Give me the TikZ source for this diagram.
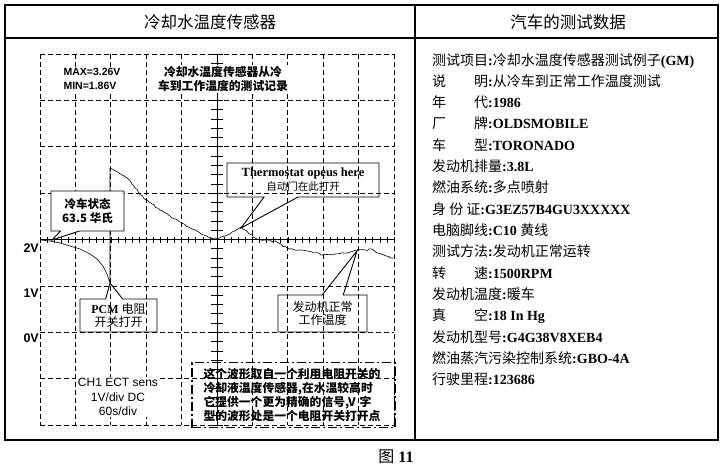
\documentclass[tikz,border=0pt]{standalone}
\usepackage{fontspec}
\setmainfont{Liberation Serif}
\setsansfont{Liberation Sans}
\newfontfamily\cjk{Noto Sans CJK SC}
\usetikzlibrary{positioning,shapes.callouts,decorations.pathmorphing}

\newcommand\zh[1]{{\cjk\mdseries #1}}
\newcommand\lbl[2]{\makebox[56pt][s]{\cjk\mdseries #1\hfill #2}}

\begin{document}
\pgfmathsetseed{11}
\begin{tikzpicture}[x=1pt,y=-1pt,node distance=21.33pt,on grid,
  frame/.style={line width=1.2pt},
  griddash/.style={line width=0.7pt,dash pattern=on 5pt off 3pt},
  axis/.style={line width=0.8pt},
  tick/.style={line width=0.6pt},
  trace/.style={line width=0.6pt},
  scopetxt/.style={fill=white,inner sep=1.5pt,align=center},
  callbox/.style={rectangle callout,draw,line width=0.9pt,align=center,inner sep=1pt},
  ylab/.style={anchor=east,inner sep=0pt,font=\sffamily\bfseries\fontsize{12.5}{14}\selectfont},
  datarow/.style={anchor=west,inner sep=0pt,text height=11pt,text depth=3pt,
    font=\bfseries\fontsize{14}{16}\selectfont}]
\useasboundingbox (0,0) rectangle (727,471);

% scope grid
\foreach \i in {0,1,2,3,4,6,7,8,9,10}
  \draw[griddash] (40+35.4*\i,54) -- (40+35.4*\i,425);
\foreach \j in {0,1,2,3,5,6,7,8}
  \draw[griddash] (40,54+46.375*\j) -- (394,54+46.375*\j);
\draw[axis] (217,54) -- (217,425);
\draw[axis] (40,239.5) -- (394,239.5);
\foreach \k in {0,...,50}
  \draw[tick] (40+7.08*\k,236.5) -- ++(0,6);
\foreach \k in {0,...,40}
  \draw[tick] (211,54+9.275*\k) -- ++(12,0);

% waveform
\draw[trace] (41,240) -- (50,241) -- (60,243) -- (70,246) -- (80,249) -- (90,254)
  -- (97,259) -- (103,266) -- (107,274) -- (110,283) -- (110,168);
\draw[trace,decorate,decoration={random steps,segment length=2.5pt,amplitude=0.8pt}]
  (110,168) -- (118,172) -- (127,178) -- (135,188) -- (143,197) -- (152,204)
  -- (160,210) -- (170,216) -- (180,222) -- (190,228) -- (200,233) -- (208,237)
  -- (217,239) -- (225,236) -- (232,232) -- (241,227) -- (245,230) -- (250,234)
  -- (257,239) -- (267,240) -- (277,242) -- (287,248) -- (300,250) -- (312,252)
  -- (323,255) -- (335,254) -- (347,253) -- (357,250) -- (365,250) -- (372,249)
  -- (378,253) -- (386,256) -- (393,258);

% scope texts
\node[scopetxt,align=left,font=\sffamily\bfseries\fontsize{10.5}{14}\selectfont] (maxmin) at (92,79) {MAX=3.26V\\MIN=1.86V};
\node[scopetxt,font=\cjk\bfseries\fontsize{11.8}{14.5}\selectfont] (record) at (223,79) {冷却水温度传感器从冷\\车到工作温度的测试记录};
\node[scopetxt,font=\sffamily\fontsize{12}{14.5}\selectfont] (ch1) at (118,397) {CH1 ECT sens\\1V/div DC\\60s/div};
\foreach \v/\y in {2/248,1/293,0/338}
  \node[ylab] (v\v) at (39,\y) {\v V};

% callouts
\coordinate (coldtip) at (52,240);
\coordinate (thermtip) at (241,228);
\coordinate (pcmtip) at (110,283);
\coordinate (enginetip) at (357,251);
\node[callbox,fill=white,minimum width=73pt,minimum height=40pt,
  callout absolute pointer={(coldtip)},callout pointer width=19pt,
  font=\cjk\bfseries\fontsize{11.5}{14}\selectfont] (cold) at (87.5,211) {冷车状态\\63.5 华氏};
\node[callbox,minimum width=152pt,minimum height=34pt,
  callout absolute pointer={(thermtip)},callout pointer width=34pt,
  font=\fontsize{12.5}{14}\selectfont] (therm) at (303,180)
  {\textbf{Thermostat opeus here}\\{\cjk\fontsize{10.5}{14}\selectfont 自动门在此打开}};
\node[callbox,minimum width=77pt,minimum height=33pt,
  callout absolute pointer={(pcmtip)},callout pointer width=17pt,
  font=\fontsize{12}{12.5}\selectfont] (pcm) at (118.5,315.5)
  {\textbf{PCM} {\cjk 电阻}\\{\cjk 开关打开}};
\node[callbox,minimum width=89pt,minimum height=37pt,
  callout absolute pointer={(enginetip)},callout pointer width=21pt,
  font=\cjk\fontsize{12}{12.5}\selectfont] (engine) at (322.5,313.5) {发动机正常\\工作温度};

% note
\node[draw,line width=1.6pt,dash pattern=on 9pt off 3pt on 2pt off 3pt,
  text width=180pt,inner xsep=11.5pt,minimum height=65pt,align=left,
  font=\cjk\bfseries\fontsize{11.8}{14.3}\selectfont] (note) at (293.5,395)
  {这个波形取自一个利用电阻开关的\\冷却液温度传感器,在水温较高时\\它提供一个更为精确的信号,V 字\\型的波形处是一个电阻开关打开点};

% headers
\node[font=\cjk\fontsize{16.5}{18}\selectfont] (lhead) at (210,22) {冷却水温度传感器};
\node[font=\cjk\fontsize{16.5}{18}\selectfont] (rhead) at (568,22) {汽车的测试数据};

% data rows
\node[datarow] (r1) at (432,61) {\zh{测试项目}:\zh{冷却水温度传感器测试例子}(GM)};
\node[below=of r1.west,datarow] (r2) {\lbl{说}{明}:\zh{从冷车到正常工作温度测试}};
\node[below=of r2.west,datarow] (r3) {\lbl{年}{代}:1986};
\node[below=of r3.west,datarow] (r4) {\lbl{厂}{牌}:OLDSMOBILE};
\node[below=of r4.west,datarow] (r5) {\lbl{车}{型}:TORONADO};
\node[below=of r5.west,datarow] (r6) {\zh{发动机排量}:3.8L};
\node[below=of r6.west,datarow] (r7) {\zh{燃油系统}:\zh{多点喷射}};
\node[below=of r7.west,datarow] (r8) {\zh{身 份 证}:G3EZ57B4GU3XXXXX};
\node[below=of r8.west,datarow] (r9) {\zh{电脑脚线}:C10 \zh{黄线}};
\node[below=of r9.west,datarow] (r10) {\zh{测试方法}:\zh{发动机正常运转}};
\node[below=of r10.west,datarow] (r11) {\lbl{转}{速}:1500RPM};
\node[below=of r11.west,datarow] (r12) {\zh{发动机温度}:\zh{暖车}};
\node[below=of r12.west,datarow] (r13) {\lbl{真}{空}:18 In Hg};
\node[below=of r13.west,datarow] (r14) {\zh{发动机型号}:G4G38V8XEB4};
\node[below=of r14.west,datarow] (r15) {\zh{燃油蒸汽污染控制系统}:GBO-4A};
\node[below=of r15.west,datarow] (r16) {\zh{行驶里程}:123686};

% frame
\draw[frame] (5,5) rectangle (718,440);
\draw[frame] (415,5) -- (415,440);
\draw[frame] (5,38) -- (718,38);
\node[font=\fontsize{16}{18}\selectfont] (fig) at (396,457) {\zh{图}\ \textbf{11}};
\end{tikzpicture}
\end{document}
